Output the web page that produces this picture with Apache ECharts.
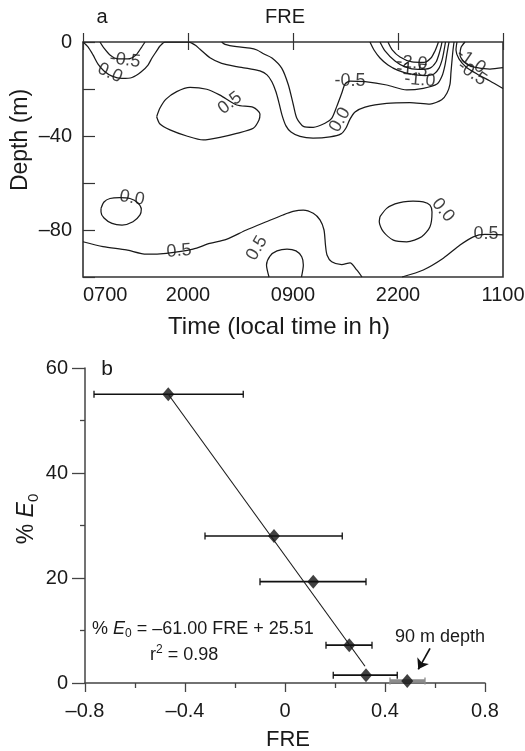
<!DOCTYPE html>
<html>
<head>
<meta charset="utf-8">
<script src="https://cdn.jsdelivr.net/npm/echarts@6/dist/echarts.min.js"></script>
<style>
  html, body { margin: 0; padding: 0; background: #fff; }
  #chart { width: 525px; height: 751px; }
</style>
</head>
<body>
<div id="chart"></div>
<script>
// ---- panel a: FRE contours (x = hours after 0700 of day 1, y = depth in m)
const timeLabels = ['0700', '2000', '0900', '2200', '1100'];

const fre_m05_topLeft = [[2.10, 0], [2.60, -2.6], [3.34, -5.5], [4.33, -7.2], [5.57, -7.2], [6.56, -5.5], [7.18, -2.6], [7.68, 0]];
const fre_00_top = [[0, 0], [0.62, -2.1], [1.24, -5.5], [1.86, -9.4], [2.60, -12.3], [3.59, -14.5], [4.83, -15.5], [6.07, -15.1],
  [7.18, -12.8], [8.05, -9.8], [8.54, -6.8], [9.12, -3.8], [9.53, -1.7], [10.15, 0], [13.16, 0], [13.87, -1.3], [14.49, -3.1],
  [15.72, -6.7], [17.17, -9.1], [19.03, -10.5], [20.68, -11.4], [21.91, -12.3], [22.78, -14.0], [23.40, -17.0], [23.90, -21.3],
  [24.27, -26.0], [24.64, -31.1], [25.13, -35.7], [25.75, -38.3], [26.87, -40.2], [28.48, -40.9], [30.58, -40.4], [31.94, -39.1],
  [32.56, -36.6], [33.06, -32.8], [33.68, -29.8], [34.92, -27.7], [37.60, -26.1], [40.48, -25.8], [42.96, -26.4], [44.41, -24.6],
  [45.07, -21.7], [45.44, -17.9], [45.56, -12.8], [45.69, -7.7], [45.81, -3.4], [45.94, 0]];
const fre_m05_mid = [[17.17, 0], [17.58, -1.0], [19.03, -2.0], [20.68, -2.6], [21.54, -3.4], [22.41, -5.1], [23.40, -6.8], [24.60, -11.1],
  [25.42, -18.2], [26.04, -26.7], [26.46, -32.3], [27.28, -35.9], [28.51, -36.3], [29.96, -34.6], [30.79, -32.5], [31.41, -27.5],
  [32.03, -21.8], [32.44, -17.9], [33.06, -16.6], [34.92, -16.9], [37.60, -18.3], [40.08, -20.4], [42.13, -19.7], [43.83, -17.9],
  [44.45, -14.5], [44.82, -9.8], [45.07, -4.7], [45.32, 0]];
const fre_m10 = [[35.53, 0], [36.03, -3.4], [36.77, -6.8], [37.76, -9.8], [39.00, -12.1], [40.48, -13.6], [42.34, -14.3], [43.46, -13.6],
  [44.08, -11.1], [44.45, -7.7], [44.69, -3.8], [44.88, 0]];
const fre_m15 = [[36.77, 0], [37.39, -3.8], [38.63, -8.1], [39.87, -10.6], [41.48, -11.7], [42.96, -11.1], [43.71, -8.5], [44.08, -5.1],
  [44.32, -2.1], [44.45, 0]];
const fre_m20 = [[37.76, 0], [38.26, -3.2], [39.25, -6.4], [40.73, -8.5], [42.22, -8.7], [43.08, -6.8], [43.58, -3.8], [43.83, -1.7], [44.01, 0]];
const fre_m10_right = [[47.30, 0], [46.80, -2.3], [46.68, -5.5], [47.17, -8.5], [48.29, -10.6], [50.39, -11.5], [52, -10.9]];
const fre_m05_right = [[46.30, 0], [46.18, -3.4], [46.55, -7.2], [47.42, -10.6], [48.78, -13.6], [50.39, -16.6], [52, -19.8]];
const fre_05_mid = [[9.12, -31.8], [9.53, -28.1], [10.28, -24.3], [11.60, -21.1], [13.25, -19.3], [15.32, -20.1], [16.96, -22.6],
  [19.03, -26.8], [21.08, -27.8], [21.91, -30.6], [21.79, -33.2], [21.08, -36.7], [19.03, -38.9], [16.96, -40.6], [14.89, -41.7],
  [12.84, -40.0], [10.77, -37.4], [9.53, -34.9], [9.12, -31.8]];
const fre_00_lowLeft = [[2.23, -70.8], [2.60, -68.1], [3.34, -66.6], [4.54, -66.2], [5.82, -66.6], [6.81, -68.5], [7.22, -71.1],
  [7.06, -73.6], [6.19, -76.5], [4.83, -77.9], [3.59, -77.2], [2.60, -74.9], [2.23, -72.3], [2.23, -70.8]];
const fre_05_low = [[0, -85.0], [2.48, -87.1], [5.36, -88.5], [7.84, -90.3], [10.31, -89.9], [13.62, -88.1], [15.69, -85.7],
  [17.74, -84.0], [20.22, -80.0], [22.69, -76.5], [24.76, -73.6], [26.0, -72.1], [27.27, -71.5], [28.51, -72.9], [29.34, -75.7],
  [29.84, -80.0], [30.02, -86.4], [30.21, -90.6], [30.79, -93.5], [32.03, -94.7], [33.06, -94.0], [33.89, -97.0], [34.54, -100]];
const fre_05_dome = [[23.03, -100], [22.72, -94.9], [23.15, -91.1], [24.02, -88.9], [25.26, -88.1], [26.37, -88.9], [27.08, -91.4],
  [27.28, -94.9], [27.05, -100]];
const fre_00_lowRight = [[36.77, -74.3], [37.60, -70.8], [38.63, -68.9], [39.66, -68.0], [40.86, -67.7], [42.13, -68.0], [42.96, -69.4],
  [43.21, -72.3], [42.96, -78.6], [41.93, -82.9], [40.08, -85.0], [38.42, -84.3], [37.18, -80.7], [36.68, -76.5], [36.77, -74.3]];
const fre_05_right = [[39.50, -100], [42.13, -97.0], [44.61, -92.0], [46.68, -86.4], [48.32, -82.9], [49.77, -81.9], [52, -82.1]];

const contours = [fre_m05_topLeft, fre_00_top, fre_m05_mid, fre_m10, fre_m15, fre_m20, fre_m10_right, fre_m05_right,
  fre_05_mid, fre_00_lowLeft, fre_05_low, fre_05_dome, fre_00_lowRight, fre_05_right];

// contour labels: [time, depth, text]
const contourLabels = [
  [5.20, -7.7, '-0.5'], [3.34, -13.2, '0.0'], [18.20, -26.0, '0.5'], [33.06, -16.6, '-0.5'], [31.82, -33.2, '0.0'],
  [40.73, -8.9, '-2.0'], [40.73, -11.9, '-1.5'], [41.72, -16.2, '-1.0'], [48.04, -8.1, '-1.0'], [48.16, -13.2, '-0.5'],
  [6.07, -66.4, '0.0'], [11.89, -88.9, '0.5'], [21.54, -87.7, '0.5'], [44.57, -71.5, '0.0'], [49.89, -81.7, '0.5']
];
const labelRotation = [-8, -25, 38, 0, 60, -5, -5, -5, -35, -35, -10, 5, 60, -50, 0];

// ---- panel b: %E0 against FRE
const freX = [-0.467, -0.044, 0.113, 0.257, 0.324, 0.489];
const e0Y = [55.0, 28.0, 19.3, 7.2, 1.5, 0.4];
const freLow = [-0.764, -0.32, -0.10, 0.164, 0.193, 0.42];
const freHigh = [-0.167, 0.229, 0.324, 0.348, 0.449, 0.56];
const fitX = [-0.467, 0.32];
const fitY = [55.0, 3.2];
const arrowFrom = [0.58, 6.6];
const arrowTo = [0.533, 2.6];

const ink = '#1a1a1a';
const font = 'Liberation Sans, Arial, Helvetica, sans-serif';

const chart = echarts.init(document.getElementById('chart'));

function dash(v) {
  return v < 0 ? '\u2013' + String(-v) : String(v);
}

const contourSeries = contours.map(c => ({
  type: 'line',
  xAxisIndex: 0,
  yAxisIndex: 0,
  data: c,
  symbol: 'none',
  smooth: 0.25,
  silent: true,
  lineStyle: { color: ink, width: 1.25 }
}));

const option = {
  animation: false,
  backgroundColor: '#fff',
  grid: [
    { left: 83, right: 22, top: 42, bottom: 474, containLabel: false, outerBoundsMode: 'none',
      show: true, borderColor: '#333', borderWidth: 1.6, backgroundColor: 'transparent' },
    { left: 85, right: 40, top: 368, bottom: 68, containLabel: false, outerBoundsMode: 'none' }
  ],
  xAxis: [
    {
      gridIndex: 0, type: 'value', min: 0, max: 52, interval: 13, position: 'bottom',
      axisLine: { show: false },
      axisTick: { inside: true, length: 9, lineStyle: { color: '#333', width: 1.2 } },
      axisLabel: {
        color: ink, fontSize: 20, fontFamily: font, margin: 8, alignMinLabel: 'left',
        formatter: v => timeLabels[Math.round(v / 13)]
      },
      splitLine: { show: false }
    },
    {
      gridIndex: 0, type: 'value', min: 0, max: 52, interval: 13, position: 'top',
      axisLine: { show: false },
      axisTick: { inside: true, length: 8, lineStyle: { color: '#333', width: 1.2 } },
      axisLabel: { show: false },
      splitLine: { show: false }
    },
    {
      gridIndex: 1, type: 'value', min: -0.8, max: 0.8, interval: 0.4,
      axisLine: { show: true, onZero: false, lineStyle: { color: '#444', width: 1.5 } },
      axisTick: { inside: false, length: 9, lineStyle: { color: '#444', width: 1.3 } },
      minorTick: { show: true, splitNumber: 2, length: 5, lineStyle: { color: '#444', width: 1.3 } },
      axisLabel: {
        color: ink, fontSize: 20, fontFamily: font, margin: 18,
        formatter: v => {
          const r = Math.round(v * 10) / 10;
          if (r === 0) return '0';
          return r < 0 ? '\u2013' + (-r).toFixed(1) : r.toFixed(1);
        }
      },
      splitLine: { show: false }
    }
  ],
  yAxis: [
    {
      gridIndex: 0, type: 'value', min: -100, max: 0, interval: 20,
      axisLine: { show: false },
      axisTick: { inside: true, length: 12, lineStyle: { color: '#333', width: 1.2 } },
      axisLabel: {
        color: ink, fontSize: 20, fontFamily: font, margin: 11,
        formatter: v => (Math.round(v) % 40 === 0 ? dash(Math.round(v)) : '')
      },
      splitLine: { show: false }
    },
    {
      gridIndex: 1, type: 'value', min: 0, max: 60, interval: 20,
      axisLine: { show: true, onZero: false, lineStyle: { color: '#444', width: 1.5 } },
      axisTick: { inside: false, length: 13, lineStyle: { color: '#444', width: 1.3 } },
      minorTick: { show: true, splitNumber: 2, length: 5, lineStyle: { color: '#444', width: 1.3 } },
      axisLabel: { color: ink, fontSize: 20, fontFamily: font, margin: 17 },
      splitLine: { show: false }
    }
  ],
  series: contourSeries.concat([
    {
      type: 'scatter',
      xAxisIndex: 0,
      yAxisIndex: 0,
      symbol: 'circle',
      symbolSize: 1,
      silent: true,
      itemStyle: { color: 'transparent' },
      label: { show: true, position: 'inside', color: '#111', fontSize: 18, fontFamily: font },
      data: contourLabels.map((l, i) => ({
        value: [l[0], l[1]],
        label: { formatter: l[2], rotate: labelRotation[i] }
      }))
    },
    {
      // horizontal error bars
      type: 'custom',
      xAxisIndex: 2,
      yAxisIndex: 1,
      silent: true,
      clip: false,
      encode: { x: [1, 2], y: 0 },
      data: freX.map((x, i) => [e0Y[i], freLow[i], freHigh[i]]),
      renderItem: function (params, api) {
        const y = api.value(0);
        const lo = api.coord([api.value(1), y]);
        const hi = api.coord([api.value(2), y]);
        const last = params.dataIndex === freX.length - 1;
        const stroke = last ? '#8c8c8c' : '#111';
        const cap = 3.5;
        return {
          type: 'group',
          children: [
            { type: 'line', shape: { x1: lo[0], y1: lo[1], x2: hi[0], y2: hi[1] },
              style: { stroke: stroke, lineWidth: last ? 3.5 : 1.7 } },
            { type: 'line', shape: { x1: lo[0], y1: lo[1] - cap, x2: lo[0], y2: lo[1] + cap },
              style: { stroke: stroke, lineWidth: 1.3 } },
            { type: 'line', shape: { x1: hi[0], y1: hi[1] - cap, x2: hi[0], y2: hi[1] + cap },
              style: { stroke: stroke, lineWidth: 1.3 } }
          ]
        };
      }
    },
    {
      type: 'line',
      xAxisIndex: 2,
      yAxisIndex: 1,
      data: fitX.map((x, i) => [x, fitY[i]]),
      symbol: 'none',
      silent: true,
      lineStyle: { color: ink, width: 1.1 }
    },
    {
      type: 'scatter',
      xAxisIndex: 2,
      yAxisIndex: 1,
      symbol: 'diamond',
      symbolSize: [12, 14],
      silent: true,
      clip: false,
      itemStyle: { color: '#111' },
      data: freX.map((x, i) => [x, e0Y[i]])
    },
    {
      type: 'lines',
      coordinateSystem: 'cartesian2d',
      xAxisIndex: 2,
      yAxisIndex: 1,
      symbol: ['none', 'arrow'],
      symbolSize: 10,
      silent: true,
      lineStyle: { color: '#111', width: 1.7, opacity: 1 },
      data: [{ coords: [arrowFrom, arrowTo] }]
    }
  ]),
  graphic: [
    { type: 'text', x: 102, y: 17, style: { text: 'a', fontSize: 20, fontFamily: font, fill: ink, align: 'center', verticalAlign: 'middle' } },
    { type: 'text', x: 285, y: 17, style: { text: 'FRE', fontSize: 20, fontFamily: font, fill: ink, align: 'center', verticalAlign: 'middle' } },
    { type: 'text', x: 21, y: 140, rotation: Math.PI / 2,
      style: { text: 'Depth (m)', fontSize: 23, fontFamily: font, fill: ink, align: 'center', verticalAlign: 'middle' } },
    { type: 'text', x: 279, y: 327,
      style: { text: 'Time (local time in h)', fontSize: 24, fontFamily: font, fill: ink, align: 'center', verticalAlign: 'middle' } },
    { type: 'text', x: 107, y: 369, style: { text: 'b', fontSize: 21, fontFamily: font, fill: ink, align: 'center', verticalAlign: 'middle' } },
    { type: 'text', x: 27, y: 519, rotation: Math.PI / 2,
      style: {
        text: '{t|% }{e|E}{s|0}', fill: ink, align: 'center', verticalAlign: 'middle',
        rich: {
          t: { fontSize: 23, fontFamily: font, lineHeight: 28 },
          e: { fontSize: 23, fontFamily: font, fontStyle: 'italic', lineHeight: 28 },
          s: { fontSize: 15, fontFamily: font, verticalAlign: 'bottom', lineHeight: 20 }
        }
      } },
    { type: 'text', x: 288, y: 740, style: { text: 'FRE', fontSize: 22, fontFamily: font, fill: ink, align: 'center', verticalAlign: 'middle' } },
    { type: 'text', x: 92, y: 629,
      style: {
        text: '{t|% }{e|E}{s|0}{t| = \u201361.00 FRE + 25.51}', fill: ink, align: 'left', verticalAlign: 'middle',
        rich: {
          t: { fontSize: 18, fontFamily: font, lineHeight: 22 },
          e: { fontSize: 18, fontFamily: font, fontStyle: 'italic', lineHeight: 22 },
          s: { fontSize: 12, fontFamily: font, verticalAlign: 'bottom', lineHeight: 16 }
        }
      } },
    { type: 'text', x: 150, y: 655,
      style: {
        text: '{t|r}{p|2}{t| = 0.98}', fill: ink, align: 'left', verticalAlign: 'middle',
        rich: {
          t: { fontSize: 18, fontFamily: font, lineHeight: 22 },
          p: { fontSize: 12, fontFamily: font, verticalAlign: 'top', lineHeight: 16 }
        }
      } },
    { type: 'text', x: 395, y: 637,
      style: { text: '90 m depth', fontSize: 18, fontFamily: font, fill: ink, align: 'left', verticalAlign: 'middle' } }
  ]
};

chart.setOption(option);
</script>
</body>
</html>
